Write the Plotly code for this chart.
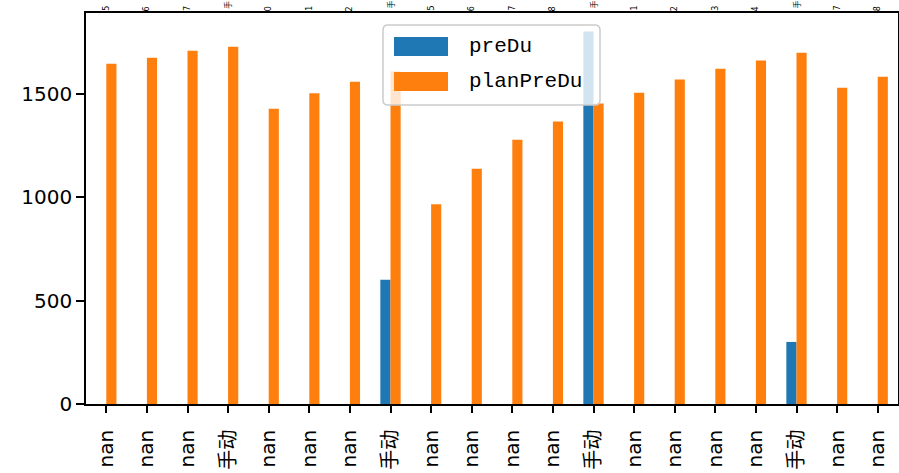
import plotly.graph_objects as go

categories = ["nan", "nan", "nan", "手动", "nan", "nan", "nan", "手动", "nan", "nan",
              "nan", "nan", "手动", "nan", "nan", "nan", "nan", "手动", "nan", "nan"]
preDu = [None, None, None, None, None, None, None, 600, None, None,
         None, None, 1800, None, None, None, None, 300, None, None]
planPreDu = [1645, 1674, 1708, 1727, 1427, 1502, 1558, 1608, 965, 1137,
             1277, 1365, 1452, 1505, 1568, 1621, 1660, 1698, 1529, 1582]
top_fragments = ["5", "6", "7", "手", "0", "1", "2", "手", "5", "6",
                 "7", "8", "手", "1", "2", "3", "4", "手", "7", "8"]
yticks = [0, 500, 1000, 1500]

W, H = 899, 473
L, R, T, B = 86, 1, 13, 69
PW, PH = W - L - R, H - T - B

def px(xp):
    return (xp - L) / PW

def py(yp):
    return (H - B - yp) / PH

xs = list(range(len(categories)))
BLUE, ORANGE = "#1f77b4", "#ff7f0e"
FONT = "DejaVu Sans, Noto Sans CJK SC, sans-serif"

fig = go.Figure()
fig.add_trace(go.Bar(x=xs, y=preDu, name="preDu", marker_color=BLUE, marker_line_width=0, showlegend=False))
fig.add_trace(go.Bar(x=xs, y=planPreDu, name="planPreDu", marker_color=ORANGE, marker_line_width=0, showlegend=False))

fig.update_layout(
    width=W, height=H,
    margin=dict(l=L, r=R, t=T, b=B, pad=0, autoexpand=False),
    barmode="group", bargap=0.5, bargroupgap=0,
    plot_bgcolor="white", paper_bgcolor="white",
    font=dict(family=FONT, size=20, color="black"),
)
fig.update_xaxes(
    automargin=False,
    range=[-0.5, len(categories) - 0.5],
    tickmode="array", tickvals=xs, ticktext=categories, tickangle=-90,
    ticks="outside", ticklen=7, tickwidth=1.6, tickcolor="black",
    ticklabelstandoff=9,
    showline=True, linecolor="black", linewidth=1.6, mirror=True,
    showgrid=False, zeroline=False,
    tickfont=dict(family=FONT, size=20),
)
fig.update_yaxes(
    automargin=False,
    range=[0, 1890],
    tickmode="array", tickvals=yticks, ticktext=[str(v) for v in yticks],
    ticks="outside", ticklen=8, tickwidth=1.6, tickcolor="black",
    showline=True, linecolor="black", linewidth=1.6, mirror=True,
    showgrid=False, zeroline=False,
    tickfont=dict(family=FONT, size=20),
)

# legend drawn like matplotlib's (wide patches, translucent rounded frame)
x0, x1, y0, y1, r = 383, 600, 25, 105, 5
path = (f"M {px(x0 + r)},{py(y0)} L {px(x1 - r)},{py(y0)} Q {px(x1)},{py(y0)} {px(x1)},{py(y0 + r)} "
        f"L {px(x1)},{py(y1 - r)} Q {px(x1)},{py(y1)} {px(x1 - r)},{py(y1)} "
        f"L {px(x0 + r)},{py(y1)} Q {px(x0)},{py(y1)} {px(x0)},{py(y1 - r)} "
        f"L {px(x0)},{py(y0 + r)} Q {px(x0)},{py(y0)} {px(x0 + r)},{py(y0)} Z")
fig.add_shape(type="path", path=path, xref="paper", yref="paper", layer="above",
              fillcolor="rgba(255,255,255,0.8)", line=dict(color="#cccccc", width=1.5))
for name, color, yc in [("preDu", BLUE, 46.5), ("planPreDu", ORANGE, 81.5)]:
    fig.add_shape(type="rect", xref="paper", yref="paper", layer="above",
                  x0=px(394), x1=px(448), y0=py(yc - 9.5), y1=py(yc + 9.5),
                  fillcolor=color, line_width=0)
    fig.add_annotation(text=name, xref="paper", yref="paper", x=px(467), y=py(yc),
                       xanchor="left", yanchor="middle", showarrow=False,
                       font=dict(family="Liberation Mono, DejaVu Sans Mono, monospace", size=21, color="black"))

# remnants of tick labels above the axes
for i, t in enumerate(top_fragments):
    cjk = t == "手"
    fig.add_annotation(text=t, xref="x", yref="paper", x=i, y=1,
                       xanchor="center", yanchor="bottom", showarrow=False,
                       textangle=-90, yshift=2 if cjk else 0,
                       font=dict(family=FONT, size=8, color="black"))

fig.write_html("out.html", config={"displayModeBar": False},
               post_script="document.body.style.margin='0';")
